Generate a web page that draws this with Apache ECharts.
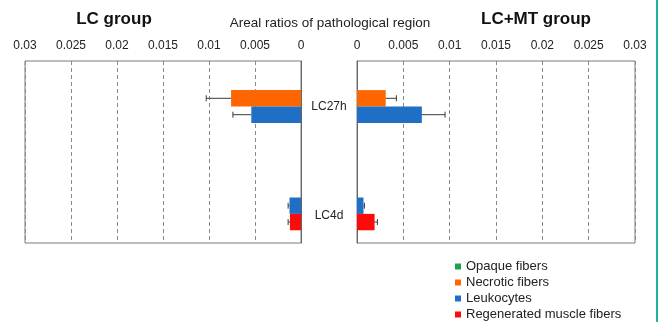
<!DOCTYPE html>
<html>
<head>
<meta charset="utf-8">
<script src="https://cdn.jsdelivr.net/npm/echarts@6/dist/echarts.min.js"></script>
<style>
html,body{margin:0;padding:0;background:#fff;}
#chart{width:661px;height:322px;}
</style>
</head>
<body>
<div id="chart"></div>
<script>
var categories = ['LC27h', 'LC4d'];
var seriesNames = ['Opaque fibers', 'Necrotic fibers', 'Leukocytes', 'Regenerated muscle fibers'];
var seriesColors = ['#22a04a', '#ff6600', '#1f6fc6', '#ff0a0a'];

// LC group (left panel)
var lcOpaque = [0, 0];
var lcNecrotic = [0.0076, 0];
var lcLeukocytes = [0.0054, 0.00125];
var lcRegenerated = [0, 0.0012];
var lcOpaqueErr = [0, 0];
var lcNecroticErr = [0.0027, 0];
var lcLeukocytesErr = [0.002, 0.00015];
var lcRegeneratedErr = [0, 0.0002];

// LC+MT group (right panel)
var mtOpaque = [0, 0];
var mtNecrotic = [0.0031, 0];
var mtLeukocytes = [0.0070, 0.0007];
var mtRegenerated = [0, 0.0019];
var mtOpaqueErr = [0, 0];
var mtNecroticErr = [0.00115, 0];
var mtLeukocytesErr = [0.0025, 0.0001];
var mtRegeneratedErr = [0, 0.0003];

var FONT = '"Liberation Sans", Arial, sans-serif';
var BAR_FRAC = 0.18;

var lcValues = [lcOpaque, lcNecrotic, lcLeukocytes, lcRegenerated];
var lcErrs = [lcOpaqueErr, lcNecroticErr, lcLeukocytesErr, lcRegeneratedErr];
var mtValues = [mtOpaque, mtNecrotic, mtLeukocytes, mtRegenerated];
var mtErrs = [mtOpaqueErr, mtNecroticErr, mtLeukocytesErr, mtRegeneratedErr];

function errData(values, errs) {
  var out = [];
  for (var s = 0; s < values.length; s++) {
    for (var c = 0; c < categories.length; c++) {
      if (errs[s][c] > 0) out.push([values[s][c], c, errs[s][c], s]);
    }
  }
  return out;
}

function renderErr(params, api) {
  var v = api.value(0), c = api.value(1), e = api.value(2), s = api.value(3);
  var p0 = api.coord([v, c]);
  var p1 = api.coord([v + e, c]);
  var band = api.size([0, 1])[1];
  var bw = band * BAR_FRAC;
  var y = p0[1] + (s - 1.5) * bw;
  var st = { stroke: '#3a3a3a', lineWidth: 1 };
  return {
    type: 'group',
    children: [
      { type: 'line', shape: { x1: p0[0], y1: y, x2: p1[0], y2: y }, style: st },
      { type: 'line', shape: { x1: p1[0], y1: y - 3, x2: p1[0], y2: y + 3 }, style: st }
    ]
  };
}

var series = [];
for (var i = 0; i < 4; i++) {
  series.push({
    name: seriesNames[i], type: 'bar', xAxisIndex: 0, yAxisIndex: 0,
    data: lcValues[i], barWidth: (BAR_FRAC * 100) + '%', barGap: '0%',
    itemStyle: { color: seriesColors[i] }, silent: true
  });
}
for (var j = 0; j < 4; j++) {
  series.push({
    name: seriesNames[j], type: 'bar', xAxisIndex: 1, yAxisIndex: 1,
    data: mtValues[j], barWidth: (BAR_FRAC * 100) + '%', barGap: '0%',
    itemStyle: { color: seriesColors[j] }, silent: true
  });
}
series.push({
  type: 'custom', xAxisIndex: 0, yAxisIndex: 0, renderItem: renderErr,
  encode: { x: 0, y: 1 }, data: errData(lcValues, lcErrs), z: 5, silent: true
});
series.push({
  type: 'custom', xAxisIndex: 1, yAxisIndex: 1, renderItem: renderErr,
  encode: { x: 0, y: 1 }, data: errData(mtValues, mtErrs), z: 5, silent: true
});

function xAxisCfg(gridIndex, inverse) {
  return {
    type: 'value', gridIndex: gridIndex, position: 'top', inverse: inverse,
    min: 0, max: 0.03, interval: 0.005,
    axisLine: { show: false }, axisTick: { show: false },
    axisLabel: { margin: 9, fontSize: 12, color: '#222', fontFamily: FONT },
    splitLine: { show: true, lineStyle: { type: [4, 3], color: '#8a8a8a', width: 1 } }
  };
}

var option = {
  animation: false,
  backgroundColor: '#ffffff',
  grid: [
    { left: 25, right: 360, top: 61, bottom: 79, show: true, borderColor: '#7a7a7a', borderWidth: 1 },
    { left: 357, right: 26, top: 61, bottom: 79, show: true, borderColor: '#7a7a7a', borderWidth: 1 }
  ],
  xAxis: [xAxisCfg(0, true), xAxisCfg(1, false)],
  yAxis: [
    {
      type: 'category', gridIndex: 0, data: categories, inverse: true, position: 'right',
      axisLine: { show: true, lineStyle: { color: '#666', width: 1 } },
      axisTick: { show: false }, axisLabel: { show: false }, splitLine: { show: false }
    },
    {
      type: 'category', gridIndex: 1, data: categories, inverse: true, position: 'left',
      axisLine: { show: true, lineStyle: { color: '#666', width: 1 } },
      axisTick: { show: false }, splitLine: { show: false },
      axisLabel: {
        show: true, margin: 28, align: 'center', fontSize: 12, color: '#222', fontFamily: FONT,
        formatter: function (v) { return v === 'LC4d' ? '{b|' + v + '}' : '{a|' + v + '}'; },
        rich: {
          a: { fontSize: 12, color: '#222', fontFamily: FONT, align: 'center' },
          b: { fontSize: 12, color: '#222', fontFamily: FONT, align: 'center', padding: [36, 0, 0, 0] }
        }
      }
    }
  ],
  legend: {
    orient: 'vertical', left: 455, top: 260, height: 100, itemWidth: 6, itemHeight: 6, itemGap: 3,
    padding: 0, icon: 'rect', data: seriesNames, selectedMode: false,
    textStyle: { fontSize: 13, lineHeight: 13, color: '#222', fontFamily: FONT }
  },
  graphic: [
    { type: 'text', x: 114, y: 19, style: { text: 'LC group', fill: '#111', font: 'bold 17px ' + FONT, textAlign: 'center', textVerticalAlign: 'middle' } },
    { type: 'text', x: 536, y: 19, style: { text: 'LC+MT group', fill: '#111', font: 'bold 17px ' + FONT, textAlign: 'center', textVerticalAlign: 'middle' } },
    { type: 'text', x: 330, y: 23, style: { text: 'Areal ratios of pathological region', fill: '#222', font: '13.5px ' + FONT, textAlign: 'center', textVerticalAlign: 'middle' } },
    { type: 'rect', shape: { x: 656, y: 0, width: 2, height: 322 }, style: { fill: '#1db5a2' } }
  ],
  series: series
};

var chart = echarts.init(document.getElementById('chart'), null, { renderer: 'canvas' });
chart.setOption(option);
</script>
</body>
</html>
